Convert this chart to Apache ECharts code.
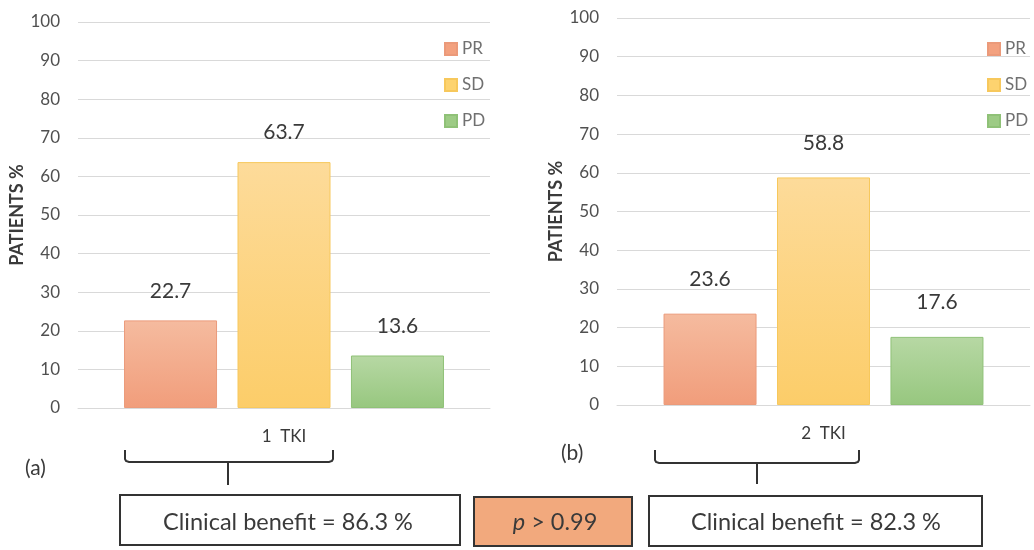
<!DOCTYPE html>
<html>
<head>
<meta charset="utf-8">
<script src="https://cdn.jsdelivr.net/npm/echarts@6/dist/echarts.min.js"></script>
<style>
  html, body { margin: 0; padding: 0; background: #ffffff; }
  #chart { width: 1034px; height: 550px; }
</style>
</head>
<body>
<div id="chart"></div>
<script>
// Response categories and their share of patients (%) per treatment line
const responseNames = ['PR', 'SD', 'PD'];
const panelCategories = ['1  TKI', '2  TKI'];
const valuesOneTKI = [22.7, 63.7, 13.6];
const valuesTwoTKI = [23.6, 58.8, 17.6];
const yMin = 0, yMax = 100, yStep = 10;
const yAxisTitle = 'PATIENTS %';
const panelTags = ['(a)', '(b)'];
const benefitTexts = ['Clinical benefit = 86.3 %', 'Clinical benefit = 82.3 %'];
const pValueText = '> 0.99';

const FONT = 'Lato';
const TEXT = '#3a3a3a';
const AXIS_TEXT = '#505050';
const GRID_LINE = '#d9d9d9';

// Fill gradients for each response category
const fills = {
  PR: { top: '#f5bb9f', bottom: '#f19d7b', border: '#eb9a7a', solid: '#f3a17f' },
  SD: { top: '#fddb9a', bottom: '#fccd69', border: '#f7c85c', solid: '#fdd36f' },
  PD: { top: '#b7d8a4', bottom: '#97c77f', border: '#8fc177', solid: '#9dcb85' }
};

function gradient(name) {
  const f = fills[name];
  return {
    type: 'linear', x: 0, y: 0, x2: 0, y2: 1,
    colorStops: [{ offset: 0, color: f.top }, { offset: 1, color: f.bottom }]
  };
}

const panels = [
  { values: valuesOneTKI, grid: { left: 78, right: 544, top: 22, bottom: 142 }, labelGap: 19, nameGap: 48, legendLeft: 439 },
  { values: valuesTwoTKI, grid: { left: 617, right: 4, top: 18, bottom: 145 }, labelGap: 24, nameGap: 47, legendLeft: 982 }
];

const grids = [], xAxes = [], yAxes = [], series = [], legends = [];

panels.forEach((p, i) => {
  grids.push(p.grid);
  xAxes.push({
    type: 'category',
    gridIndex: i,
    data: [panelCategories[i]],
    axisLine: { show: true, lineStyle: { color: GRID_LINE, width: 1 } },
    axisTick: { show: false },
    axisLabel: { color: TEXT, fontFamily: FONT, fontSize: 17, margin: 20 }
  });
  yAxes.push({
    type: 'value',
    gridIndex: i,
    min: yMin, max: yMax, interval: yStep,
    name: yAxisTitle,
    nameLocation: 'middle',
    nameRotate: 90,
    nameGap: p.nameGap,
    nameTextStyle: { color: TEXT, fontFamily: FONT, fontSize: 18, fontWeight: 'bold' },
    axisLine: { show: false },
    axisTick: { show: false },
    axisLabel: { color: AXIS_TEXT, fontFamily: FONT, fontSize: 17, margin: 18 },
    splitLine: { show: true, lineStyle: { color: GRID_LINE, width: 1 } }
  });
  responseNames.forEach((name, j) => {
    series.push({
      name: name,
      type: 'bar',
      xAxisIndex: i,
      yAxisIndex: i,
      barWidth: 93,
      barGap: '22%',
      data: [p.values[j]],
      itemStyle: { color: gradient(name), borderColor: fills[name].border, borderWidth: 1 },
      label: {
        show: true,
        position: 'top',
        distance: p.labelGap,
        color: TEXT,
        fontFamily: FONT,
        fontSize: 21,
        formatter: '{c}'
      },
      emphasis: { disabled: true }
    });
  });
  legends.push({
    orient: 'vertical',
    left: p.legendLeft,
    top: 35,
    itemWidth: 12,
    itemHeight: 12,
    itemGap: 18,
    icon: 'rect',
    selectedMode: false,
    textStyle: { color: '#707070', fontFamily: FONT, fontSize: 17, lineHeight: 18 },
    data: responseNames.map(n => ({ name: n, itemStyle: { color: fills[n].solid } }))
  });
});

// Braces, panel tags and summary boxes beneath the two panels
const STROKE = '#333333';
function brace(x1, x2, yTop, yBar, xStem, yStem) {
  return [
    {
      type: 'polyline',
      shape: { points: [[x1, yTop], [x1, yBar - 3], [x1 + 1, yBar - 1], [x1 + 4, yBar], [x2 - 4, yBar], [x2 - 1, yBar - 1], [x2, yBar - 3], [x2, yTop]] },
      style: { fill: null, stroke: STROKE, lineWidth: 2 }
    },
    {
      type: 'line',
      shape: { x1: xStem, y1: yBar, x2: xStem, y2: yStem },
      style: { stroke: STROKE, lineWidth: 2 }
    }
  ];
}

const BOX_FONT = 23.5;
const graphics = [
  { type: 'text', left: 25, top: 458, style: { text: panelTags[0], fill: TEXT, fontFamily: FONT, fontSize: 21 } },
  { type: 'text', left: 561, top: 443, style: { text: panelTags[1], fill: TEXT, fontFamily: FONT, fontSize: 21 } },
  ...brace(125, 333, 450, 462, 228, 485),
  ...brace(655, 859, 450, 463, 757, 484),
  { type: 'rect', shape: { x: 120, y: 495, width: 340, height: 50 }, style: { fill: '#ffffff', stroke: STROKE, lineWidth: 2 } },
  { type: 'rect', shape: { x: 474, y: 497, width: 158, height: 49 }, style: { fill: '#f2a97d', stroke: STROKE, lineWidth: 2 } },
  { type: 'rect', shape: { x: 649, y: 496, width: 333, height: 50 }, style: { fill: '#ffffff', stroke: STROKE, lineWidth: 2 } },
  {
    type: 'text', x: 288, y: 522,
    style: { text: benefitTexts[0], fill: TEXT, fontFamily: FONT, fontSize: BOX_FONT, align: 'center', verticalAlign: 'middle' }
  },
  {
    type: 'text', x: 555, y: 522,
    style: {
      text: '{i|p} ' + pValueText,
      fill: TEXT, fontFamily: FONT, fontSize: BOX_FONT, align: 'center', verticalAlign: 'middle',
      rich: { i: { fontStyle: 'italic', fontFamily: FONT, fontSize: BOX_FONT, fill: TEXT } }
    }
  },
  {
    type: 'text', x: 816, y: 522,
    style: { text: benefitTexts[1], fill: TEXT, fontFamily: FONT, fontSize: BOX_FONT, align: 'center', verticalAlign: 'middle' }
  }
];

const chart = echarts.init(document.getElementById('chart'), null, { renderer: 'canvas' });
chart.setOption({
  animation: false,
  backgroundColor: '#ffffff',
  grid: grids,
  xAxis: xAxes,
  yAxis: yAxes,
  legend: legends,
  series: series,
  graphic: graphics
});
</script>
</body>
</html>
